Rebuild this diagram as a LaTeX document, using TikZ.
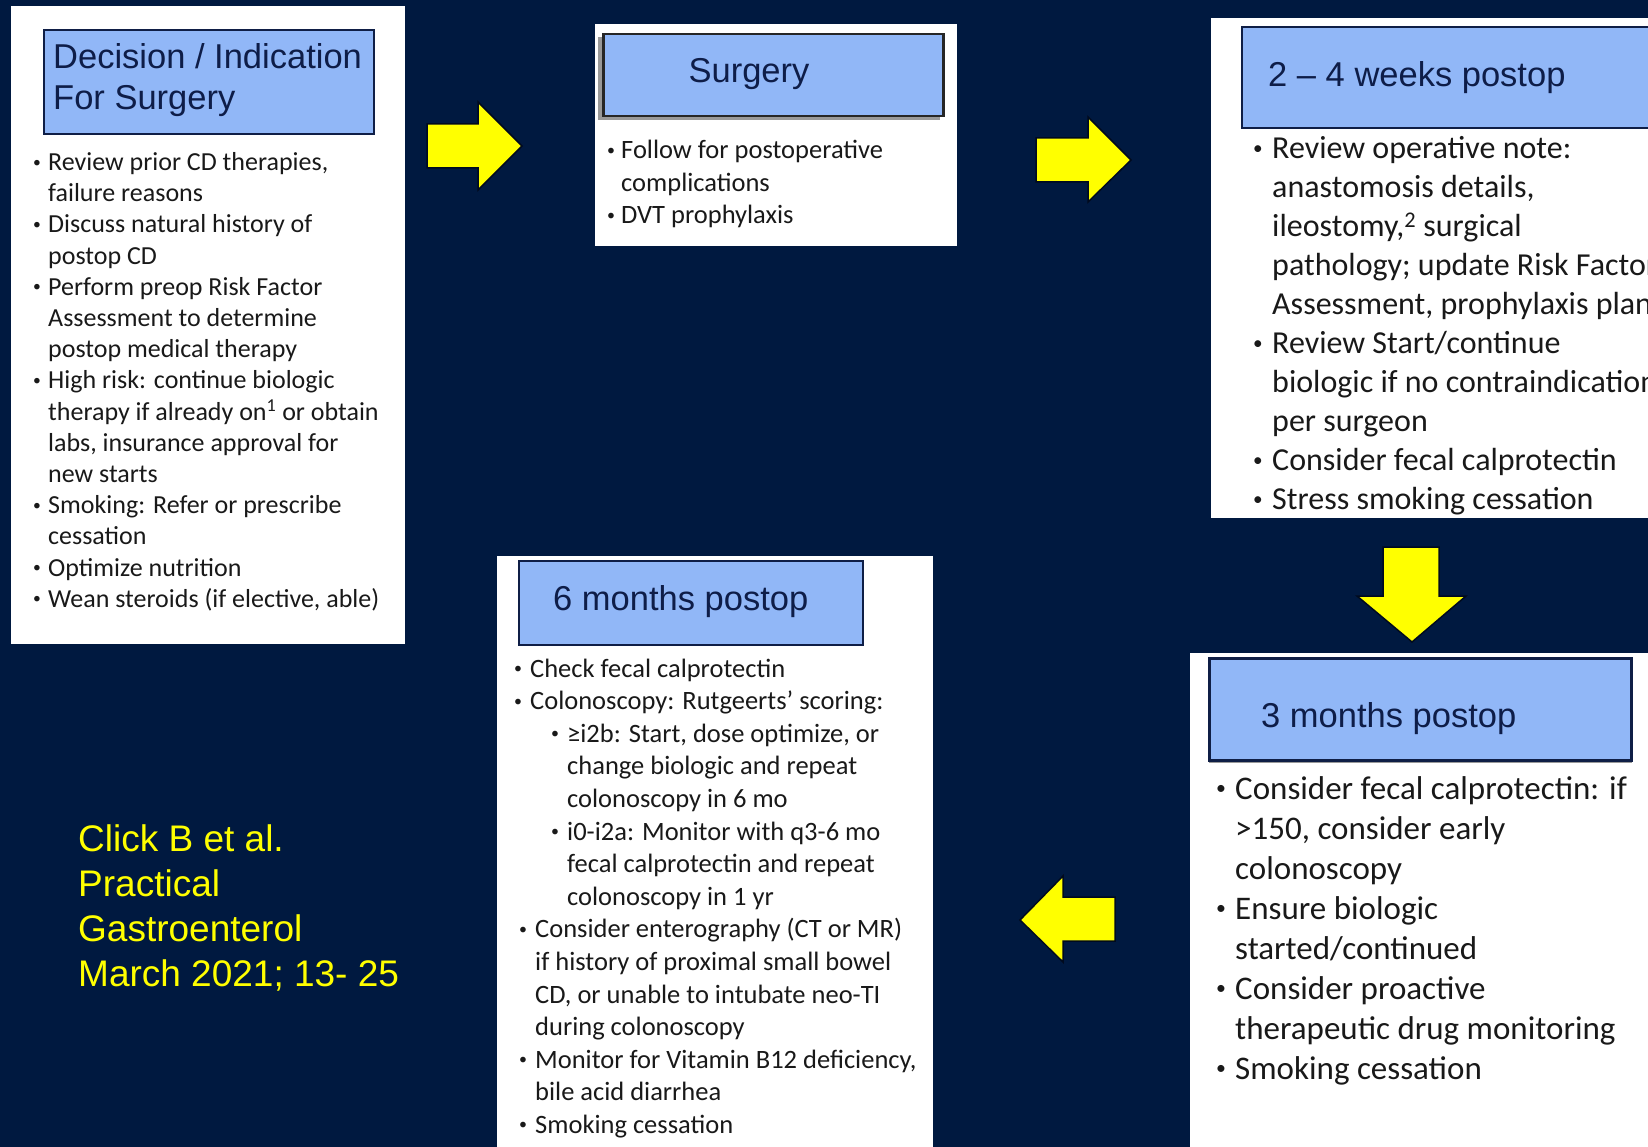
\documentclass[tikz,border=0pt]{standalone}
\usepackage{graphicx}
\usepackage{fontspec}
\setmainfont{Carlito}
\newfontfamily\arialf{Liberation Sans}
\definecolor{bgnavy}{RGB}{0,25,64}
\definecolor{hdrblue}{RGB}{145,183,247}
\definecolor{hdrline}{RGB}{15,30,70}
\definecolor{titletxt}{RGB}{14,29,72}
\definecolor{bodytxt}{RGB}{25,25,25}
\definecolor{citeyellow}{RGB}{255,255,0}
\definecolor{arrowedge}{RGB}{0,10,30}
\newlength\bw
\setlength\bw{13pt}
\newcommand\dotb{\raisebox{0.13em}{\scalebox{0.6}{•}}}
\newcommand\bl{\makebox[\bw][l]{\dotb}}
\newcommand\ct{\makebox[\bw]{}}
\begin{document}
\begin{tikzpicture}[x=1pt,y=-1pt,
  hdr/.style={fill=hdrblue, draw=hdrline, line width=2pt},
  hdrshadow/.style={fill=black!40, draw=none},
  title/.style={font=\arialf\fontsize{34.5}{41}\selectfont, text=titletxt, inner sep=0, anchor=base west},
  body/.style={inner sep=0, anchor=base west, text=bodytxt},
  cite/.style={font=\arialf\fontsize{37}{45}\selectfont, text=citeyellow, inner sep=0, anchor=base west},
  yarrow/.style={fill=citeyellow, draw=arrowedge, line width=1.5pt, line join=miter}]
\clip (0,0) rectangle (1648,1147);
\fill[bgnavy] (0,0) rectangle (1648,1147);

% ---------- Panel 1 ----------
\fill[white] (10.5,6) rectangle (405,644);
\node[hdr, anchor=north west, minimum width=330pt, minimum height=104pt, inner sep=0] (h1) at (43,29) {};
\node[title] (t1) at (53,69) {\parbox[t]{340pt}{Decision / Indication\\For Surgery}};
\node[body, font=\fontsize{26}{31.2}\selectfont] (b1) at (33,170.5) {\parbox[t]{380pt}{\setlength\bw{15pt}%
\bl Review prior CD therapies,\\
\ct failure reasons\\
\bl Discuss natural history of\\
\ct postop CD\\
\bl Perform preop Risk Factor\\
\ct Assessment to determine\\
\ct postop medical therapy\\
\bl High risk: continue biologic\\
\ct therapy if already on\textsuperscript{1} or obtain\\
\ct labs, insurance approval for\\
\ct new starts\\
\bl Smoking: Refer or prescribe\\
\ct cessation\\
\bl Optimize nutrition\\
\bl Wean steroids (if elective, able)}};

% ---------- Panel 2 ----------
\fill[white] (595,24) rectangle (957,246);
\fill[hdrshadow] (598,37) rectangle (940,120);
\node[hdr, draw=black!85, line width=2.5pt, anchor=north west, minimum width=340pt, minimum height=82pt, inner sep=0] (h2) at (602,33) {};
\node[title, anchor=base] (t2) at (749,83) {Surgery};
\node[body, font=\fontsize{26.5}{32.5}\selectfont] (b2) at (607,159) {\parbox[t]{340pt}{\setlength\bw{14pt}%
\bl Follow for postoperative\\
\ct complications\\
\bl DVT prophylaxis}};

% ---------- Panel 3 ----------
\fill[white] (1211,18) rectangle (1660,518);
\node[hdr, anchor=north west, minimum width=420pt, minimum height=101pt, inner sep=0] (h3) at (1241,26) {};
\node[title] (t3) at (1268,87) {2 – 4 weeks postop};
\node[body, font=\fontsize{32}{39}\selectfont] (b3) at (1253,158.5) {\parbox[t]{500pt}{\setlength\bw{19pt}%
\bl Review operative note:\\
\ct anastomosis details,\\
\ct ileostomy,\textsuperscript{2} surgical\\
\ct pathology; update Risk Factor\\
\ct Assessment, prophylaxis plan\\
\bl Review Start/continue\\
\ct biologic if no contraindications\\
\ct per surgeon\\
\bl Consider fecal calprotectin\\
\bl Stress smoking cessation}};

% ---------- Panel 4 ----------
\fill[white] (1190,653) rectangle (1660,1160);
\fill[hdrshadow] (1209,661) rectangle (1632,763);
\node[hdr, line width=2.5pt, anchor=north west, minimum width=422pt, minimum height=102pt, inner sep=0] (h4) at (1208,657) {};
\node[title] (t4) at (1261,727) {3 months postop};
\node[body, font=\fontsize{33}{40}\selectfont] (b4) at (1216,799) {\parbox[t]{440pt}{\setlength\bw{19pt}%
\bl Consider fecal calprotectin: if\\
\ct >150, consider early\\
\ct colonoscopy\\
\bl Ensure biologic\\
\ct started/continued\\
\bl Consider proactive\\
\ct therapeutic drug monitoring\\
\bl Smoking cessation}};

% ---------- Panel 5 ----------
\fill[white] (497,556) rectangle (933,1160);
\node[hdr, anchor=north west, minimum width=344pt, minimum height=84pt, inner sep=0] (h5) at (518,560) {};
\node[title] (t5) at (553,610) {6 months postop};
\node[body, font=\fontsize{26.5}{32.6}\selectfont] (b5) at (514,677) {\parbox[t]{420pt}{\setlength\bw{16pt}%
\bl Check fecal calprotectin\\
\bl Colonoscopy: Rutgeerts’ scoring:\\
\makebox[37pt]{}\bl ≥i2b: Start, dose optimize, or\\
\makebox[37pt]{}\ct change biologic and repeat\\
\makebox[37pt]{}\ct colonoscopy in 6 mo\\
\makebox[37pt]{}\bl i0-i2a: Monitor with q3-6 mo\\
\makebox[37pt]{}\ct fecal calprotectin and repeat\\
\makebox[37pt]{}\ct colonoscopy in 1 yr\\
\makebox[5pt]{}\bl Consider enterography (CT or MR)\\
\makebox[5pt]{}\ct if history of proximal small bowel\\
\makebox[5pt]{}\ct CD, or unable to intubate neo-TI\\
\makebox[5pt]{}\ct during colonoscopy\\
\makebox[5pt]{}\bl Monitor for Vitamin B12 deficiency,\\
\makebox[5pt]{}\ct bile acid diarrhea\\
\makebox[5pt]{}\bl Smoking cessation}};

% ---------- Citation ----------
\node[cite] (cite) at (78,851) {\parbox[t]{400pt}{Click B et al.\\Practical\\Gastroenterol\\March 2021; 13- 25}};

% ---------- Block arrows ----------
\draw[yarrow] (427,124) -- (478,124) -- (478,102) -- (522,146) -- (478,190) -- (478,168) -- (427,168) -- cycle;
\draw[yarrow] (1036,138) -- (1088,138) -- (1088,117) -- (1131,160) -- (1088,202) -- (1088,182) -- (1036,182) -- cycle;
\draw[yarrow] (1383,547) -- (1439,547) -- (1439,596) -- (1466,596) -- (1412,642) -- (1357,596) -- (1383,596) -- cycle;
\draw[yarrow] (1115,897) -- (1063,897) -- (1063,876) -- (1020,920) -- (1063,962) -- (1063,941) -- (1115,941) -- cycle;
\end{tikzpicture}
\end{document}
